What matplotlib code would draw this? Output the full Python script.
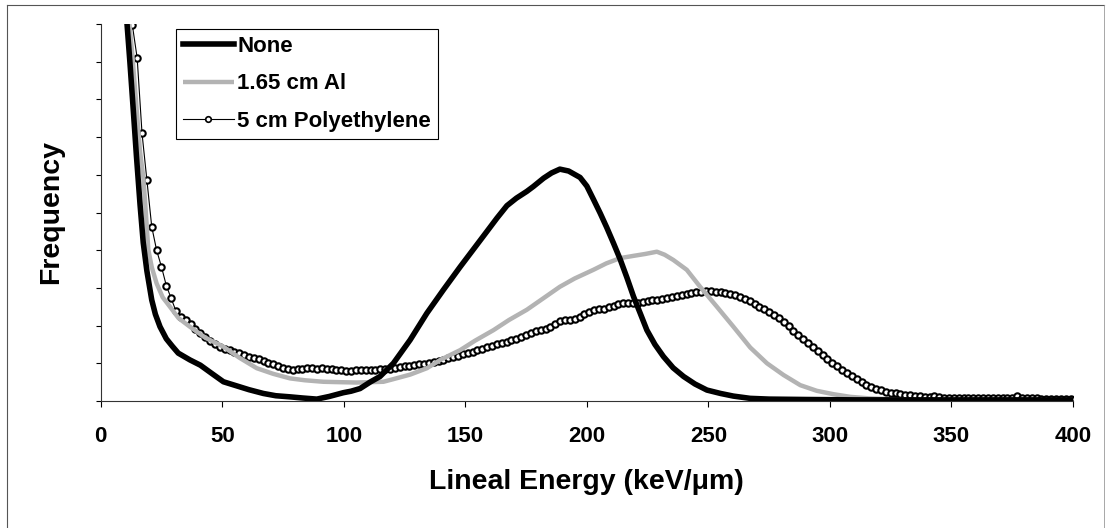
import numpy as np
from matplotlib import pyplot as plt
from matplotlib.lines import Line2D

plt.rcParams['font.family'] = ['Liberation Sans', 'DejaVu Sans']
plt.rcParams['font.weight'] = 'bold'

# spectrum with no shielding
none_x = [10.6, 12.0, 13.4, 14.7, 16.2, 17.5, 19.0, 21.0, 22.5, 24.4,
          27.0, 29.5, 31.9, 36.7, 41.0, 45.5, 50.5, 56.0, 61.0, 66.9,
          72.0, 77.9, 83.0, 88.9, 94.0, 99.8, 103.0, 106.7, 110.8, 114.9,
          120.4, 127.3, 134.2, 141.0, 147.9, 154.7, 158.8, 163.0, 167.1, 171.0,
          175.3, 178.0, 182.2, 185.5, 188.9, 192.5, 197.2, 200.0, 202.7, 205.5,
          208.2, 211.0, 213.7, 216.5, 219.2, 222.0, 224.7, 228.0, 231.5, 235.5,
          239.8, 244.5, 249.4, 255.0, 260.3, 267.2, 275.0, 290.0, 310.0, 340.0,
          370.0, 400.0]
none_y = [10.2, 9.0, 7.72, 6.5, 5.2, 4.2, 3.45, 2.68, 2.30, 1.97,
          1.65, 1.45, 1.27, 1.09, 0.95, 0.74, 0.51, 0.40, 0.30, 0.20,
          0.14, 0.11, 0.08, 0.05, 0.12, 0.22, 0.26, 0.33, 0.50, 0.65,
          1.00, 1.62, 2.33, 2.95, 3.56, 4.14, 4.49, 4.85, 5.18, 5.38,
          5.56, 5.69, 5.91, 6.05, 6.15, 6.10, 5.93, 5.70, 5.35, 4.98,
          4.60, 4.18, 3.76, 3.27, 2.77, 2.32, 1.88, 1.50, 1.18, 0.88,
          0.65, 0.45, 0.29, 0.20, 0.13, 0.07, 0.05, 0.04, 0.03, 0.03,
          0.03, 0.03]

# 1.65 cm aluminium
al_x = [11.5, 13.0, 14.8, 16.2, 17.5, 18.2, 19.6, 21.0, 23.0, 25.5,
        28.5, 32.0, 36.7, 43.0, 50.5, 57.0, 64.2, 71.0, 77.9, 84.0,
        91.6, 98.0, 105.3, 111.0, 116.3, 120.4, 127.3, 134.2, 140.0, 147.9,
        154.0, 161.6, 168.0, 175.3, 182.0, 188.9, 195.0, 202.7, 208.0, 213.7,
        219.2, 224.0, 228.8, 232.0, 235.6, 241.1, 246.6, 253.5, 260.3, 267.2,
        274.1, 280.9, 287.8, 294.6, 301.5, 308.4, 316.0, 324.0, 332.0, 340.0]
al_y = [10.2, 9.2, 7.72, 6.6, 5.95, 5.34, 4.01, 3.55, 3.12, 2.75,
        2.50, 2.20, 1.97, 1.68, 1.44, 1.15, 0.87, 0.72, 0.60, 0.55,
        0.51, 0.50, 0.49, 0.50, 0.51, 0.58, 0.70, 0.87, 1.10, 1.35,
        1.60, 1.88, 2.15, 2.42, 2.72, 3.03, 3.25, 3.48, 3.65, 3.79,
        3.85, 3.90, 3.96, 3.88, 3.74, 3.48, 3.03, 2.50, 1.97, 1.42,
        1.00, 0.69, 0.42, 0.27, 0.18, 0.11, 0.07, 0.05, 0.03, 0.02]

# 5 cm polyethylene, one channel every 2 keV/um from 13
poly_x = np.arange(13, 401, 2)
poly_y = [9.98, 9.10, 7.10, 5.85, 4.62, 4.00, 3.56, 3.06, 2.72, 2.38,   # 13-31
          2.24, 2.15, 2.05, 1.92, 1.80, 1.70, 1.59, 1.51, 1.44, 1.39,   # 33-51
          1.35, 1.30, 1.26, 1.22, 1.18, 1.14, 1.11, 1.07, 1.02, 0.97,   # 53-71
          0.92, 0.87, 0.84, 0.82, 0.84, 0.86, 0.87, 0.87, 0.86, 0.87,   # 73-91
          0.86, 0.84, 0.82, 0.81, 0.80, 0.80, 0.81, 0.82, 0.82, 0.83,   # 93-111
          0.83, 0.84, 0.85, 0.86, 0.88, 0.90, 0.92, 0.93, 0.95, 0.97,   # 113-131
          0.99, 1.01, 1.04, 1.06, 1.09, 1.13, 1.16, 1.20, 1.24, 1.27,   # 133-151
          1.30, 1.34, 1.38, 1.42, 1.47, 1.51, 1.54, 1.57, 1.61, 1.65,   # 153-171
          1.70, 1.75, 1.80, 1.85, 1.89, 1.92, 1.97, 2.05, 2.12, 2.15,   # 173-191
          2.16, 2.18, 2.24, 2.30, 2.36, 2.42, 2.43, 2.45, 2.49, 2.53,   # 193-211
          2.57, 2.59, 2.60, 2.60, 2.61, 2.63, 2.66, 2.68, 2.67, 2.70,   # 213-231
          2.73, 2.75, 2.78, 2.81, 2.84, 2.86, 2.88, 2.90, 2.91, 2.91,   # 233-251
          2.90, 2.89, 2.87, 2.84, 2.81, 2.77, 2.71, 2.64, 2.57, 2.50,   # 253-271
          2.44, 2.37, 2.29, 2.20, 2.10, 1.99, 1.87, 1.75, 1.64, 1.53,   # 273-291
          1.43, 1.33, 1.22, 1.11, 1.00, 0.92, 0.83, 0.75, 0.66, 0.58,   # 293-311
          0.50, 0.43, 0.37, 0.32, 0.28, 0.25, 0.22, 0.20, 0.18, 0.16,   # 313-331
          0.15, 0.13, 0.12, 0.11, 0.10, 0.12, 0.10, 0.09, 0.09, 0.09,   # 333-351
          0.09, 0.09, 0.09, 0.08, 0.08, 0.08, 0.08, 0.08, 0.08, 0.08,   # 353-371
          0.08, 0.08, 0.12, 0.07, 0.07, 0.07, 0.07, 0.06, 0.06, 0.06,   # 373-391
          0.06, 0.05, 0.05, 0.05]                                       # 393-399

labels = ['None', '1.65 cm Al', '5 cm Polyethylene']
xticks = [0, 50, 100, 150, 200, 250, 300, 350, 400]

W, H = 1108, 528
fig = plt.figure(figsize=(W / 100, H / 100), dpi=100)
ax = fig.add_axes([100.7 / W, 1 - 401 / H, (1073 - 100.7) / W, (401 - 24) / H])

h_poly, = ax.plot(poly_x, poly_y, color='black', lw=0.8, marker='o', ms=4.6,
                  mfc='white', mec='black', mew=1.5)
h_al, = ax.plot(al_x, al_y, color='#b3b3b3', lw=3.2, solid_capstyle='butt')
h_none, = ax.plot(none_x, none_y, color='black', lw=4.0, solid_joinstyle='round')

ax.set_xlim(0, 400)
ax.set_ylim(0, 10)
ax.set_xticks(xticks)
ax.set_yticks(np.arange(0, 11, 1))
ax.set_yticklabels([])
ax.tick_params(axis='x', direction='out', length=4.3, width=0.8, pad=14,
               labelsize=16)
ax.tick_params(axis='y', direction='out', length=3.6, width=0.8)
for s in ['top', 'right']:
    ax.spines[s].set_visible(False)
for s in ['left', 'bottom']:
    ax.spines[s].set_linewidth(0.8)
    ax.spines[s].set_color('#333333')

ax.set_xlabel('Lineal Energy (keV/\u03bcm)', fontsize=20.5, fontweight='bold',
              va='center')
ax.xaxis.set_label_coords(0.5, (401 - 482) / 377)
ax.set_ylabel('Frequency', fontsize=20.5, fontweight='bold', va='center')
ax.yaxis.set_label_coords((51 - 100.7) / 972.3, 0.5)

leg = ax.legend([h_none, h_al, h_poly], labels, loc='upper left',
                bbox_to_anchor=((176 - 100.7) / 972.3, (401 - 29) / 377),
                borderaxespad=0, fontsize=16, handlelength=2.3,
                handletextpad=0.15, labelspacing=0.75, borderpad=0.3,
                fancybox=False, framealpha=1, edgecolor='black')
leg.get_frame().set_linewidth(0.8)
for t in leg.get_texts():
    t.set_fontweight('bold')
leg.legend_handles[2].set_markersize(4.0)
leg.legend_handles[2].set_markeredgewidth(1.2)

# thin frame around the whole figure
fx0, fx1, fy1 = 7 / W, 1104 / W, 1 - 5 / H
fig.add_artist(Line2D([fx0, fx0], [0, fy1], color='#555555', lw=0.8))
fig.add_artist(Line2D([fx0, fx1], [fy1, fy1], color='#555555', lw=0.8))
fig.add_artist(Line2D([fx1, fx1], [0, fy1], color='#999999', lw=0.6))

fig.savefig('out.png', dpi=100)
plt.close(fig)
